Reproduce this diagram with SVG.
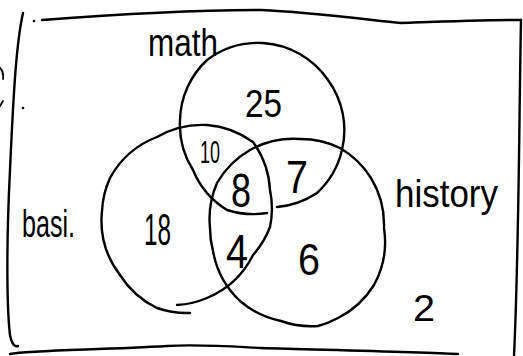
<svg xmlns="http://www.w3.org/2000/svg" width="523" height="356" viewBox="0 0 523 356">
<style>
.ink{fill:none;stroke:#000;stroke-width:2.4;stroke-linecap:round;stroke-linejoin:round}
.thin{fill:none;stroke:#000;stroke-width:1.8;stroke-linecap:round}
text{font-family:"Liberation Sans","DejaVu Sans",sans-serif;fill:#000}
.lbl{font-size:38px}
</style>
<rect width="523" height="356" fill="#fff"/>
<g id="frame">
<path class="ink" d="M42,20 C120,14 200,10 261,10 C310,12 370,20 401,23 C430,22 480,20 521,20"/>
<path class="ink" d="M521,20 C519,120 519,250 514,356"/>
<path class="ink" d="M10,354 C30,350 100,350 167,346 C200,344 240,347 261,348 C330,350 420,352 458,354"/>
<path class="ink" d="M23,13 C17,40 14,80 10,170 C6,250 7,310 10,335 C12,345 15,347 18,346"/>
<circle cx="34" cy="21" r="1.3" fill="#000"/>
<circle cx="23" cy="108" r="1.3" fill="#000"/>
<path class="thin" d="M0,68 Q4,72 3,79 M0,106 L3,101"/>
</g>
<g id="set-math">
<path class="ink" d="M267,213 A85,85 0 0 1 227,210 A85,85 0 0 1 193,170 A85,85 0 0 1 180,120 A85,85 0 0 1 207,60 A85,85 0 0 1 263,43 A85,85 0 0 1 328,80 A85,85 0 0 1 342,150 A85,85 0 0 1 317,193 A85,85 0 0 1 277,207"/>
<text class="lbl" x="148" y="56" textLength="70" lengthAdjust="spacingAndGlyphs">math</text>
</g>
<g id="set-basi">
<path class="ink" d="M190,313 A90,90 0 0 1 157,308 A90,90 0 0 1 120,275 A90,90 0 0 1 102,211 A90,90 0 0 1 110,178 A90,90 0 0 1 157,137 A90,90 0 0 1 207,125 A90,90 0 0 1 253,142 A90,90 0 0 1 270,190 A90,90 0 0 1 270,227 A90,90 0 0 1 253,255 A90,90 0 0 1 207,298 A90,90 0 0 1 177,305"/>
<text class="lbl" x="22" y="237" font-size="36" textLength="53" lengthAdjust="spacingAndGlyphs">basi.</text>
</g>
<g id="set-history">
<path class="ink" d="M318,326 A90,90 0 0 1 281,321 A90,90 0 0 1 240,301 A90,90 0 0 1 213,251 A90,90 0 0 1 210,228 A90,90 0 0 1 217,183 A90,90 0 0 1 250,150 A90,90 0 0 1 300,139 A90,90 0 0 1 340,148 A90,90 0 0 1 371,178 A90,90 0 0 1 384,228 A90,90 0 0 1 374,285 A90,90 0 0 1 338,318 A90,90 0 0 1 318,326"/>
<text class="lbl" x="395" y="207" font-size="40" textLength="103" lengthAdjust="spacingAndGlyphs">history</text>
</g>
<g id="counts">
<text x="245" y="117" font-size="39" textLength="37" lengthAdjust="spacingAndGlyphs">25</text>
<text x="200" y="163" font-size="32" textLength="20" lengthAdjust="spacingAndGlyphs">10</text>
<text x="231" y="207" font-size="48" textLength="20" lengthAdjust="spacingAndGlyphs">8</text>
<text x="286" y="193" font-size="46" textLength="22" lengthAdjust="spacingAndGlyphs">7</text>
<text x="144" y="245" font-size="44" textLength="27" lengthAdjust="spacingAndGlyphs">18</text>
<text x="226" y="268" font-size="48" textLength="22" lengthAdjust="spacingAndGlyphs">4</text>
<text x="298" y="275" font-size="44" textLength="22" lengthAdjust="spacingAndGlyphs">6</text>
<text x="413" y="321" font-size="36" textLength="22" lengthAdjust="spacingAndGlyphs">2</text>
</g>
</svg>
